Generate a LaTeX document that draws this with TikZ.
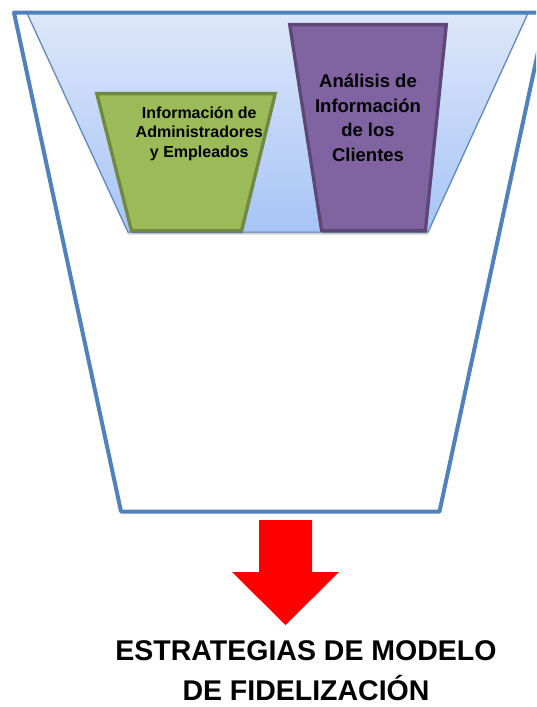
\documentclass[tikz,border=0pt]{standalone}
\usepackage{fontspec}
\setmainfont{Liberation Sans}
\usetikzlibrary{shadows}

\definecolor{funnelblue}{HTML}{4F81BD}
\definecolor{basintop}{HTML}{DDE7FA}
\definecolor{basinbottom}{HTML}{A7C4F6}
\definecolor{greenfill}{HTML}{9BBB59}
\definecolor{greenline}{HTML}{71893F}
\definecolor{purplefill}{HTML}{8064A2}
\definecolor{purpleline}{HTML}{5C4776}
\definecolor{arrowred}{HTML}{FF0000}

\begin{document}
\begin{tikzpicture}[x=1pt,y=-1pt,
  funnel/.style={draw=funnelblue,line width=4pt,line join=round},
  basin/.style={top color=basintop,bottom color=basinbottom,draw=funnelblue,line width=1pt,
    drop shadow={opacity=0.18,shadow xshift=0pt,shadow yshift=-2.5pt,fill=black}},
  bucket/.style={line width=3.3pt,line join=miter,
    drop shadow={opacity=0.22,shadow xshift=1pt,shadow yshift=-3pt,fill=black}},
  greenbucket/.style={bucket,fill=greenfill,draw=greenline},
  purplebucket/.style={bucket,fill=purplefill,draw=purpleline},
  label/.style={inner sep=0pt,align=center,text=black},
]
\useasboundingbox (0,0) rectangle (536,707);
\clip (0,0) rectangle (536,707);

% pale blue basin inside the funnel mouth
\path[basin] (27,13) -- (128,232) -- (428,232) -- (528,13) -- cycle;

% outer funnel
\draw[funnel] (14,12.5) -- (546.5,12.5) -- (439.5,511.5) -- (121,511.5) -- cycle;

% the two information buckets
\path[greenbucket] (96.8,93.6) -- (275.2,93.6) -- (241.6,230.4) -- (131.4,230.4) -- cycle;
\path[purplebucket] (289.7,24.6) -- (446.3,24.6) -- (425.4,230.4) -- (321.6,230.4) -- cycle;

\node[label,font=\bfseries\fontsize{16}{19.5}\selectfont] (staff) at (199.3,133.4)
  {Información de\\Administradores\\y Empleados};
\node[label,font=\bfseries\fontsize{18.5}{24.8}\selectfont] (clients) at (368,117.8)
  {Análisis de\\Información\\de los\\Clientes};

% output arrow
\fill[arrowred] (259,520) -- (312,520) -- (312,572) -- (339,572) -- (285.5,625)
  -- (232,572) -- (259,572) -- cycle;

\node[label,font=\bfseries\fontsize{28.5}{40}\selectfont] (result) at (306,670.5)
  {ESTRATEGIAS DE MODELO\\DE FIDELIZACIÓN};
\end{tikzpicture}
\end{document}
